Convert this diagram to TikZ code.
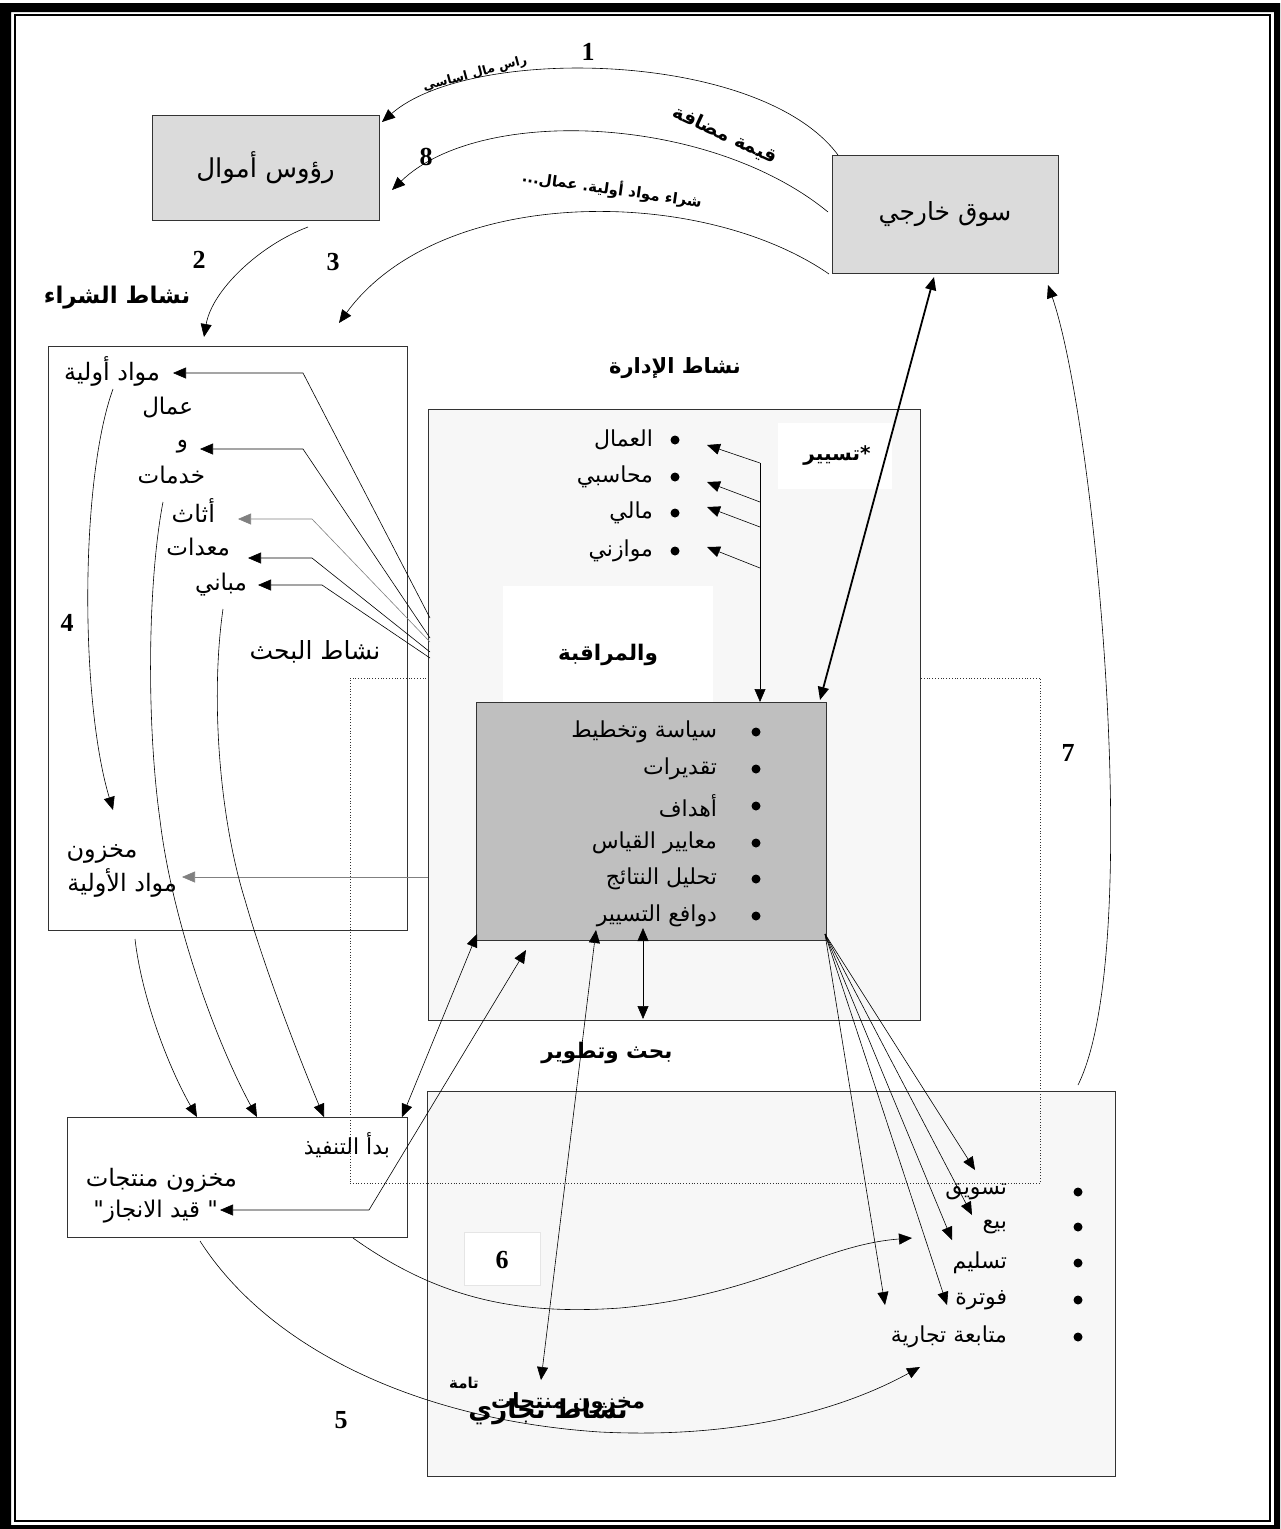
\documentclass[tikz,border=0pt]{standalone}
\usepackage{fontspec}
\setmainfont{Liberation Serif}
\newfontfamily\arfont[Script=Arabic]{DejaVu Sans}
\TeXXeTstate=1
\usetikzlibrary{arrows.meta}
\newcommand\AR[1]{{\arfont\beginR #1\endR}}
\begin{document}
\begin{tikzpicture}[x=1pt,y=-1pt,
  every node/.style={inner sep=0pt, outer sep=0pt},
  frame/.style={draw=black!80, line width=0.9pt},
  t/.style={font=\arfont\fontsize{23}{27}\selectfont},
  tm/.style={font=\arfont\fontsize{22}{26}\selectfont},
  tl/.style={font=\arfont\fontsize{25}{29}\selectfont},
  tb/.style={font=\arfont\bfseries\fontsize{21.5}{25}\selectfont},
  num/.style={font=\bfseries\fontsize{26}{30}\selectfont},
  ln/.style={line width=0.6pt, draw=black},
  gln/.style={line width=0.6pt, draw=black!50},
  tip/.style={-{Triangle[length=13pt,width=11pt]}},
  dtip/.style={{Triangle[length=13pt,width=11pt]}-{Triangle[length=13pt,width=11pt]}},
  bul/.style={circle, fill=black, minimum size=9pt},
]
\useasboundingbox (0,0) rectangle (1280,1529);
% page frame
\fill[black, even odd rule] (0,3) rectangle (1280,1529) (11,12) rectangle (1274,1525);
\draw[line width=1.5pt] (15,15) rectangle (1270,1521);

% ---------- boxes ----------
\node[frame, fill=black!14, minimum width=227pt, minimum height=105pt, font=\arfont\fontsize{26}{30}\selectfont] (cap) at (265.5,167.5) {\AR{رؤوس أموال}};
\node[frame, fill=black!14, minimum width=226pt, minimum height=118pt, tl] (mkt) at (945,214) {\AR{سوق خارجي}};
\node[frame, minimum width=359pt, minimum height=584pt] (buy) at (227.5,638) {};
\node[frame, minimum width=340pt, minimum height=120pt] (prod) at (237,1177) {};
\node[frame, fill=black!3, minimum width=688pt, minimum height=385pt] (com) at (771,1283.5) {};
\node[draw=black!10, fill=white, minimum width=76pt, minimum height=53pt] (w6) at (502,1258.5) {};
\node[draw=black!80, dotted, line width=0.8pt, minimum width=690pt, minimum height=505pt] (dot) at (695,930.5) {};
\node[frame, fill=black!3, minimum width=492pt, minimum height=611pt] (adm) at (674,714.5) {};
\node[fill=white, minimum width=114pt, minimum height=66pt] (wt) at (835,456) {};
\node[fill=white, minimum width=210pt, minimum height=116pt] (wm) at (608,644) {};
\node[frame, fill=black!25, minimum width=350pt, minimum height=238pt] (ctl) at (651,821) {};

% ---------- numbers ----------
\node[num] (n1) at (588,52) {1};
\node[num] (n8) at (426,157) {8};
\node[num] (n2) at (199,260) {2};
\node[num] (n3) at (333,262) {3};
\node[num] (n4) at (67,623) {4};
\node[num] (n7) at (1068,753) {7};
\node[num] (n6) at (502,1260) {6};
\node[num] (n5) at (341,1420) {5};

% ---------- arc labels ----------
\node[font=\arfont\bfseries\fontsize{12.5}{15}\selectfont, rotate=15] (l1) at (475,74) {\AR{راس مال اساسي}};
\node[font=\arfont\bfseries\fontsize{19}{22}\selectfont, rotate=-25] (l2) at (725,135) {\AR{قيمة مضافة}};
\node[font=\arfont\bfseries\fontsize{15}{18}\selectfont, rotate=-8] (l3) at (612,189) {...\AR{عمال}\ .\AR{شراء مواد أولية}};

% ---------- titles ----------
\node[font=\arfont\bfseries\fontsize{23}{27}\selectfont] (tbuy) at (117,298) {\AR{نشاط الشراء}};
\node[font=\arfont\bfseries\fontsize{21}{25}\selectfont] (tadm) at (675,368) {\AR{نشاط الإدارة}};
\node[font=\arfont\bfseries\fontsize{20}{24}\selectfont] (ttas) at (837,456) {\AR{تسيير}*};
\node[tb] (tmur) at (608,655) {\AR{والمراقبة}};
\node[font=\arfont\fontsize{25}{29}\selectfont] (tbah) at (315,652) {\AR{نشاط البحث}};
\node[tb] (trd) at (607,1053) {\AR{بحث وتطوير}};

% ---------- purchase list ----------
\node[anchor=east, font=\arfont\fontsize{24}{28}\selectfont] (m1) at (160,371) {\AR{مواد أولية}};
\node[t, anchor=east] (m2) at (193,408) {\AR{عمال}};
\node[t, anchor=east] (m3) at (188,447) {\AR{و}};
\node[t, anchor=east] (m4) at (205,475) {\AR{خدمات}};
\node[anchor=east, font=\arfont\fontsize{24}{28}\selectfont] (m5) at (215,511) {\AR{أثاث}};
\node[t, anchor=east] (m6) at (230,547) {\AR{معدات}};
\node[t, anchor=east] (m7) at (247,585) {\AR{مباني}};
\node[font=\arfont\fontsize{24}{28}\selectfont] (s1) at (102,854) {\AR{مخزون}};
\node[anchor=east, font=\arfont\fontsize{24}{28}\selectfont] (s2) at (177,883) {\AR{مواد الأولية}};

% ---------- admin list ----------
\foreach \y/\txt [count=\i] in {440/العمال,477/محاسبي,513/مالي,551/موازني}{
  \node[tm, anchor=east] (e\i) at (653,\y) {\AR{\txt}};
  \node[bul] (eb\i) at (675,\y) {};
}
% ---------- control list ----------
\foreach \y/\txt [count=\i] in {732/سياسة وتخطيط,769/تقديرات,806/أهداف,843/معايير القياس,879/تحليل النتائج,916/دوافع التسيير}{
  \node[tm, anchor=east] (c\i) at (717,\y) {\AR{\txt}};
  \node[bul] (cb\i) at (756,\y) {};
}
% ---------- commerce list ----------
\foreach \y/\txt [count=\i] in {1192/تسويق,1227/بيع,1263/تسليم,1300/فوترة,1337/متابعة تجارية}{
  \node[tm, anchor=east] (k\i) at (1007,\y) {\AR{\txt}};
  \node[bul] (kb\i) at (1078,\y) {};
}

% ---------- production box texts ----------
\node[tm, anchor=east] (p1) at (390,1145) {\AR{بدأ التنفيذ}};
\node[anchor=east, font=\arfont\fontsize{24}{28}\selectfont] (p2) at (237,1180) {\AR{مخزون منتجات}};
\node[t, anchor=east] (p3) at (218,1212) {"\AR{قيد الانجاز}\ "};

% ---------- overlapping labels ----------
\node[font=\arfont\bfseries\fontsize{26}{30}\selectfont] (nt) at (548,1412) {\AR{نشاط تجاري}};
\node[font=\arfont\bfseries\fontsize{21}{25}\selectfont, anchor=east] (mt) at (645,1403) {\AR{مخزون منتجات}};
\node[font=\arfont\bfseries\fontsize{15}{18}\selectfont] (mt2) at (464,1383) {\AR{تامة}};

% ---------- coordinates ----------
\coordinate (a1s) at (838,155);  \coordinate (a1e) at (382,122);
\coordinate (a8s) at (828,212);  \coordinate (a8e) at (392,190);
\coordinate (a3s) at (829,274);  \coordinate (a3e) at (339,323);
\coordinate (a2s) at (308,227);  \coordinate (a2e) at (204,337);
\coordinate (a4s) at (113,389);  \coordinate (a4e) at (113,810);
\coordinate (a7s) at (1078,1085); \coordinate (a7e) at (1048,285);
\coordinate (thA) at (934,277);  \coordinate (thB) at (820,700);

% ---------- outer arcs ----------
\draw[ln, tip] (a1s) .. controls (760,50) and (470,45) .. (a1e);
\draw[ln, tip] (a8s) .. controls (710,115) and (480,105) .. (a8e);
\draw[ln, tip] (a3s) .. controls (700,185) and (440,185) .. (a3e);
\draw[ln, tip] (a2s) .. controls (260,245) and (212,290) .. (a2e);
\draw[ln, tip] (a4s) .. controls (80,480) and (80,700) .. (a4e);
\draw[ln, tip] (a7s) .. controls (1145,950) and (1095,420) .. (a7e);
\draw[line width=1.8pt, dtip] (thA) -- (thB);

% ---------- purchase arrows ----------
\coordinate (q1) at (430,618); \coordinate (q2) at (430,638); \coordinate (q3) at (430,642);
\coordinate (q4) at (430,652); \coordinate (q5) at (430,658); \coordinate (q6) at (428,877);
\draw[ln, tip] (q1) -- (303,373) -- (173,373);
\draw[ln, tip] (q2) -- (303,449) -- (200,449);
\draw[gln, tip] (q3) -- (312,519) -- (238,519);
\draw[ln, tip] (q4) -- (312,558) -- (248,558);
\draw[ln, tip] (q5) -- (322,585) -- (258,585);
\draw[gln, tip] (q6) -- (182,877);

% ---------- admin arrows ----------
\coordinate (v1) at (760,463); \coordinate (v2) at (760,502);
\coordinate (v3) at (760,527); \coordinate (v4) at (760,568);
\draw[ln, tip] (v1) -- (760,702);
\draw[ln, tip] (v1) -- (707,445);
\draw[ln, tip] (v2) -- (707,482);
\draw[ln, tip] (v3) -- (707,507);
\draw[ln, tip] (v4) -- (707,547);

% ---------- flows to production ----------
\coordinate (pt1) at (197,1117); \coordinate (pt2) at (257,1117);
\coordinate (pt3) at (324,1117); \coordinate (pt4) at (402,1117);
\draw[ln, tip] (135,939) .. controls (142,1000) and (170,1070) .. (pt1);
\draw[ln, tip] (163,502) .. controls (148,580) and (146,720) .. (160,820)
                         .. controls (172,920) and (215,1040) .. (pt2);
\draw[ln, tip] (223,609) .. controls (210,700) and (220,820) .. (245,900)
                         .. controls (265,970) and (300,1060) .. (pt3);
\draw[ln, dtip] (477,934) -- (pt4);
\draw[ln, dtip] (526,950) -- (369,1210) -- (220,1210);
\draw[ln, dtip] (596,930) -- (541,1380);
\draw[ln, dtip] (643,928) -- (643,1019);

% ---------- fan to commerce ----------
\coordinate (f0) at (825,934);
\draw[ln, tip] (f0) -- (975,1170);
\draw[ln, tip] (f0) -- (972,1215);
\draw[ln, tip] (f0) -- (952,1240);
\draw[ln, tip] (f0) -- (947,1305);
\draw[ln, tip] (f0) -- (885,1305);

% ---------- curves 5 and 6 ----------
\draw[ln, tip] (353,1238) .. controls (440,1300) and (520,1315) .. (620,1308)
                          .. controls (760,1295) and (820,1245) .. (912,1238);
\draw[ln, tip] (200,1241) .. controls (270,1350) and (420,1420) .. (600,1432)
                          .. controls (760,1440) and (860,1400) .. (920,1367);
\end{tikzpicture}
\end{document}
